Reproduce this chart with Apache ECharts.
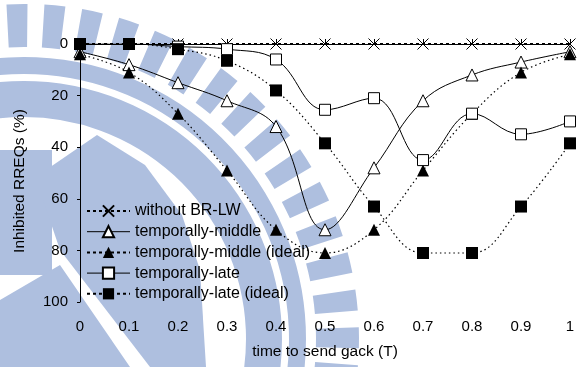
<!DOCTYPE html>
<html>
<head>
<meta charset="utf-8">
<script src="https://cdn.jsdelivr.net/npm/echarts@6/dist/echarts.min.js"></script>
<style>
  html, body { margin: 0; padding: 0; background: #fff; }
  #main { width: 586px; height: 367px; }
</style>
</head>
<body>
<div id="main"></div>
<script>
// chart data
var xValues = [0, 0.1, 0.2, 0.3, 0.4, 0.5, 0.6, 0.7, 0.8, 0.9, 1];
var withoutBRLW = [0, 0, 0, 0, 0, 0, 0, 0, 0, 0, 0];
var middle = [3, 8, 15, 22, 32, 72, 48, 22, 12, 7, 3];
var middleIdeal = [4, 11, 27, 49, 72, 81, 72, 49, 27, 11, 4];
var late = [0, 0, 1, 2, 6, 25.5, 21, 45, 27, 35, 30];
var lateIdeal = [0, 0, 2, 6.5, 18, 38.5, 63, 81, 81, 63, 38.5];
var seriesNames = ['without BR-LW', 'temporally-middle', 'temporally-middle (ideal)',
    'temporally-late', 'temporally-late (ideal)'];

function pairs(ys) {
    return xValues.map(function (x, i) { return [x, ys[i]]; });
}

// faint logo behind the chart
var wm = '#aebfdf';
function rad(d) { return d * Math.PI / 180; }
function buildWatermark() {
    var els = [];
    var cx = 24, cy = 339;
    for (var a = -106; a < 20; a += 6.5) {
        els.push({
            type: 'sector', silent: true,
            shape: {cx: cx, cy: cy, r0: 292, r: 335, startAngle: rad(a), endAngle: rad(a + 3.6)},
            style: {fill: wm}
        });
    }
    els.push({type: 'sector', silent: true,
        shape: {cx: cx, cy: cy, r0: 265, r: 282, startAngle: rad(-110), endAngle: rad(20)},
        style: {fill: wm}});
    els.push({type: 'sector', silent: true,
        shape: {cx: cx, cy: cy, r0: 222, r: 258, startAngle: rad(-110), endAngle: rad(20)},
        style: {fill: wm}});
    els.push({type: 'rect', silent: true,
        shape: {x: 0, y: 150, width: 52, height: 125},
        style: {fill: wm}});
    els.push({type: 'polygon', silent: true,
        shape: {points: [[43, 172], [97, 135], [145, 165], [182, 215], [200, 270], [206, 367],
            [150, 367], [60, 250], [43, 200]]},
        style: {fill: wm}});
    els.push({type: 'polygon', silent: true,
        shape: {points: [[0, 300], [60, 265], [130, 367], [0, 367]]},
        style: {fill: wm}});
    return els;
}

var chart = echarts.init(document.getElementById('main'));
var font = 'Liberation Sans';

var dotLegend = {type: [3, 3], width: 2, color: '#000'};
var solidLegend = {type: 'solid', width: 1, color: '#000'};

var option = {
    animation: false,
    textStyle: {fontFamily: font},
    graphic: {elements: buildWatermark()},
    grid: {left: 80, right: 16, top: 44, bottom: 65},
    legend: {
        orient: 'vertical',
        left: 86,
        top: 203,
        padding: 0,
        itemWidth: 43,
        itemHeight: 14,
        itemGap: 4.7,
        textStyle: {fontFamily: font, fontSize: 16, color: '#000'},
        data: [
            {name: seriesNames[0], lineStyle: dotLegend},
            {name: seriesNames[1], lineStyle: solidLegend},
            {name: seriesNames[2], lineStyle: dotLegend},
            {name: seriesNames[3], lineStyle: solidLegend},
            {name: seriesNames[4], lineStyle: dotLegend}
        ]
    },
    xAxis: {
        type: 'value',
        min: 0,
        max: 1,
        interval: 0.1,
        name: 'time to send gack (T)',
        nameLocation: 'middle',
        nameGap: 42,
        nameTextStyle: {fontFamily: font, fontSize: 15.5, color: '#000'},
        axisLine: {lineStyle: {color: '#000', width: 1}},
        axisTick: {inside: true, length: 5, lineStyle: {color: '#000'}},
        splitLine: {show: false},
        axisLabel: {
            fontFamily: font, fontSize: 15, color: '#000', margin: 17,
            formatter: function (v) {
                if (v === 0 || v === 1) return String(v);
                return v.toFixed(1);
            }
        }
    },
    yAxis: {
        type: 'value',
        inverse: true,
        min: 0,
        max: 100,
        interval: 20,
        name: 'Inhibited RREQs (%)',
        nameLocation: 'middle',
        nameGap: 52,
        nameTextStyle: {fontFamily: font, fontSize: 15.5, color: '#000', padding: [0, 16, 0, 0]},
        axisLine: {show: true, lineStyle: {color: '#000', width: 1}},
        axisTick: {show: true, length: 3, lineStyle: {color: '#000'}},
        splitLine: {show: false},
        axisLabel: {fontFamily: font, fontSize: 15, color: '#000', margin: 12}
    },
    series: [
        {
            name: seriesNames[0], type: 'line', data: pairs(withoutBRLW),
            symbol: 'path://M0,0L10,10M10,0L0,10', symbolSize: 11,
            itemStyle: {color: 'rgba(0,0,0,0)', borderColor: '#000', borderWidth: 1},
            lineStyle: {color: '#000', width: 2, type: [3, 3]},
            z: 3
        },
        {
            name: seriesNames[1], type: 'line', data: pairs(middle), smooth: 0.4,
            symbol: 'triangle', symbolSize: 12,
            itemStyle: {color: '#fff', borderColor: '#000', borderWidth: 1},
            lineStyle: {color: '#000', width: 1}
        },
        {
            name: seriesNames[2], type: 'line', data: pairs(middleIdeal), smooth: 0.4,
            symbol: 'triangle', symbolSize: 12,
            itemStyle: {color: '#000', borderColor: '#000', borderWidth: 0},
            lineStyle: {color: '#000', width: 1.2, type: [1.5, 3]}
        },
        {
            name: seriesNames[3], type: 'line', data: pairs(late), smooth: 0.4,
            symbol: 'rect', symbolSize: 11,
            itemStyle: {color: '#fff', borderColor: '#000', borderWidth: 1},
            lineStyle: {color: '#000', width: 1}
        },
        {
            name: seriesNames[4], type: 'line', data: pairs(lateIdeal), smooth: 0.4,
            symbol: 'rect', symbolSize: 12,
            itemStyle: {color: '#000', borderColor: '#000', borderWidth: 0},
            lineStyle: {color: '#000', width: 1.2, type: [1.5, 3]}
        }
    ]
};

chart.setOption(option);
</script>
</body>
</html>
